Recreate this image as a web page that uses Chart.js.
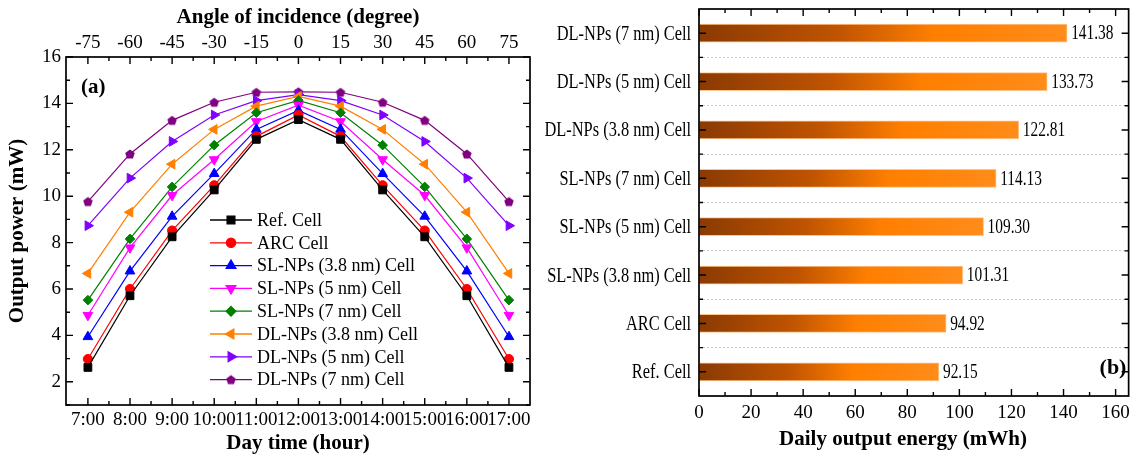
<!DOCTYPE html>
<html>
<head>
<meta charset="utf-8">
<script src="https://cdn.jsdelivr.net/npm/chart.js@4.4.1/dist/chart.umd.min.js"></script>
<style>
  body { margin: 0; background: #fff; }
  #wrap { position: relative; width: 1136px; height: 459px; }
  canvas { position: absolute; top: 0; }
  #left { left: 0; }
  #right { left: 530px; }
</style>
</head>
<body>
<div id="wrap">
  <canvas id="left" width="540" height="459"></canvas>
  <canvas id="right" width="606" height="459"></canvas>
</div>
<script>
// ---- data (a): output power over the day ----
const hours = [7, 8, 9, 10, 11, 12, 13, 14, 15, 16, 17];
const timeLabels = ['7:00', '8:00', '9:00', '10:00', '11:00', '12:00', '13:00', '14:00', '15:00', '16:00', '17:00'];
const angleLabels = ['-75', '-60', '-45', '-30', '-15', '0', '15', '30', '45', '60', '75'];
const powerTicks = [2, 4, 6, 8, 10, 12, 14, 16];

const refCell   = [2.62, 5.71, 8.25, 10.27, 12.45, 13.30, 12.45, 10.27, 8.25, 5.71, 2.62];
const arcCell   = [2.98, 6.00, 8.52, 10.47, 12.58, 13.50, 12.58, 10.47, 8.52, 6.00, 2.98];
const sl38Cell  = [3.94, 6.77, 9.13, 10.97, 12.88, 13.70, 12.88, 10.97, 9.13, 6.77, 3.94];
const sl5Cell   = [4.87, 7.78, 10.04, 11.58, 13.22, 13.92, 13.22, 11.58, 10.04, 7.78, 4.87];
const sl7Cell   = [5.52, 8.16, 10.40, 12.20, 13.60, 14.13, 13.60, 12.20, 10.40, 8.16, 5.52];
const dl38Cell  = [6.67, 9.31, 11.38, 12.88, 13.88, 14.30, 13.88, 12.88, 11.38, 9.31, 6.67];
const dl5Cell   = [8.73, 10.78, 12.36, 13.50, 14.12, 14.38, 14.12, 13.50, 12.36, 10.78, 8.73];
const dl7Cell   = [9.77, 11.82, 13.27, 14.05, 14.48, 14.50, 14.48, 14.05, 13.27, 11.82, 9.77];

// ---- data (b): daily output energy ----
const cellNames = ['Ref. Cell', 'ARC Cell', 'SL-NPs (3.8 nm) Cell', 'SL-NPs (5 nm) Cell',
                   'SL-NPs (7 nm) Cell', 'DL-NPs (3.8 nm) Cell', 'DL-NPs (5 nm) Cell', 'DL-NPs (7 nm) Cell'];
const dailyEnergy = [92.15, 94.92, 101.31, 109.30, 114.13, 122.81, 133.73, 141.38];
const energyTicks = [0, 20, 40, 60, 80, 100, 120, 140, 160];

const serif = "'Liberation Serif', 'Times New Roman', serif";

function pentagon(color, r) {
  const c = document.createElement('canvas');
  const s = Math.ceil(r * 2 + 2);
  c.width = s; c.height = s;
  const g = c.getContext('2d');
  g.fillStyle = color;
  g.beginPath();
  for (let k = 0; k < 5; k++) {
    const a = -Math.PI / 2 + k * 2 * Math.PI / 5;
    g.lineTo(s / 2 + r * Math.cos(a), s / 2 + r * Math.sin(a) + 0.5);
  }
  g.closePath();
  g.fill();
  return c;
}

const series = [
  { label: 'Ref. Cell', data: refCell, color: '#000000', style: 'rect', radius: 5.5, rot: 0 },
  { label: 'ARC Cell', data: arcCell, color: '#ff0000', style: 'circle', radius: 4.6, rot: 0 },
  { label: 'SL-NPs (3.8 nm) Cell', data: sl38Cell, color: '#0000ff', style: 'triangle', radius: 5.6, rot: 0 },
  { label: 'SL-NPs (5 nm) Cell', data: sl5Cell, color: '#ff00ff', style: 'triangle', radius: 5.6, rot: 180 },
  { label: 'SL-NPs (7 nm) Cell', data: sl7Cell, color: '#008000', style: 'rectRot', radius: 4.8, rot: 0 },
  { label: 'DL-NPs (3.8 nm) Cell', data: dl38Cell, color: '#ff8000', style: 'triangle', radius: 5.6, rot: -90 },
  { label: 'DL-NPs (5 nm) Cell', data: dl5Cell, color: '#8000ff', style: 'triangle', radius: 5.6, rot: 90 },
  { label: 'DL-NPs (7 nm) Cell', data: dl7Cell, color: '#800080', style: pentagon('#800080', 5), radius: 5, rot: 0 }
];

// box with inward major/minor ticks on all four sides
function drawFrame(chart, xMajor, xMinor, yMajor, yMinor) {
  const { ctx, chartArea: a } = chart;
  ctx.save();
  ctx.strokeStyle = '#000';
  ctx.lineWidth = 1.4;
  ctx.beginPath();
  const vt = (px, len) => {
    ctx.moveTo(px, a.bottom); ctx.lineTo(px, a.bottom - len);
    ctx.moveTo(px, a.top); ctx.lineTo(px, a.top + len);
  };
  const ht = (py, len) => {
    ctx.moveTo(a.left, py); ctx.lineTo(a.left + len, py);
    ctx.moveTo(a.right, py); ctx.lineTo(a.right - len, py);
  };
  xMajor.forEach(p => vt(p, 7));
  xMinor.forEach(p => vt(p, 4));
  yMajor.forEach(p => ht(p, 7));
  yMinor.forEach(p => ht(p, 4));
  ctx.stroke();
  ctx.lineWidth = 1.7;
  ctx.strokeRect(a.left, a.top, a.right - a.left, a.bottom - a.top);
  ctx.restore();
}

const leftFrame = {
  id: 'leftFrame',
  afterDraw(chart) {
    const { x, y } = chart.scales;
    drawFrame(chart,
      hours.map(h => x.getPixelForValue(h)),
      hours.slice(1).map(h => x.getPixelForValue(h - 0.5)),
      powerTicks.map(v => y.getPixelForValue(v)),
      powerTicks.map(v => y.getPixelForValue(v - 1)));

    const ctx = chart.ctx;
    ctx.save();
    ctx.fillStyle = '#000';
    ctx.font = 'bold 21px ' + serif;
    ctx.textBaseline = 'middle';
    ctx.fillText('(a)', 81, 88);
    ctx.restore();
  }
};

const lineLegend = {
  id: 'lineLegend',
  afterDatasetsDraw(chart) {
    const ctx = chart.ctx;
    const x0 = 210, x1 = 252, y0 = 220, dy = 22.8;
    ctx.save();
    chart.data.datasets.forEach((ds, i) => {
      const yy = y0 + i * dy;
      ctx.strokeStyle = ds.borderColor;
      ctx.lineWidth = 1.3;
      ctx.beginPath();
      ctx.moveTo(x0, yy); ctx.lineTo(x1, yy);
      ctx.stroke();
      ctx.fillStyle = ds.pointBackgroundColor;
      ctx.strokeStyle = ds.pointBorderColor;
      Chart.helpers.drawPoint(ctx, {
        pointStyle: ds.pointStyle, rotation: ds.pointRotation,
        radius: ds.pointRadius, borderWidth: 1
      }, (x0 + x1) / 2, yy);
      ctx.fillStyle = '#000';
      ctx.font = '18px ' + serif;
      ctx.textBaseline = 'middle';
      ctx.fillText(ds.label, 257, yy + 1);
    });
    ctx.restore();
  }
};

new Chart(document.getElementById('left'), {
  type: 'line',
  data: {
    datasets: series.map(s => ({
      label: s.label,
      data: s.data.map((v, i) => ({ x: hours[i], y: v })),
      borderColor: s.color,
      backgroundColor: s.color,
      borderWidth: 1.2,
      pointStyle: s.style,
      pointRotation: s.rot,
      pointRadius: s.radius,
      pointBackgroundColor: s.color,
      pointBorderColor: s.color,
      pointBorderWidth: 1,
      tension: 0
    }))
  },
  options: {
    responsive: false,
    animation: false,
    layout: { padding: { right: 10 } },
    plugins: { legend: { display: false }, tooltip: { enabled: false } },
    scales: {
      x: {
        type: 'linear', position: 'bottom', min: 6.48, max: 17.5,
        afterBuildTicks: s => { s.ticks = hours.map(v => ({ value: v })); },
        afterFit: s => { s.height = 54; },
        grid: { display: false, drawTicks: false },
        border: { display: false },
        ticks: {
          color: '#000', font: { family: serif, size: 19 }, padding: 4,
          autoSkip: false, maxRotation: 0, minRotation: 0,
          callback: v => timeLabels[hours.indexOf(v)]
        },
        title: {
          display: true, text: 'Day time (hour)', color: '#000',
          font: { family: serif, size: 21, weight: 'bold' }, padding: { top: 0, bottom: 3 }
        }
      },
      x2: {
        type: 'linear', position: 'top', min: 6.48, max: 17.5,
        afterBuildTicks: s => { s.ticks = hours.map(v => ({ value: v })); },
        afterFit: s => { s.height = 57; },
        grid: { display: false, drawTicks: false },
        border: { display: false },
        ticks: {
          color: '#000', font: { family: serif, size: 19 }, padding: 3,
          autoSkip: false, maxRotation: 0, minRotation: 0,
          callback: v => angleLabels[hours.indexOf(v)]
        },
        title: {
          display: true, text: 'Angle of incidence (degree)', color: '#000',
          font: { family: serif, size: 21, weight: 'bold' }, padding: { top: 5, bottom: 0 }
        }
      },
      y: {
        type: 'linear', min: 1, max: 16,
        afterBuildTicks: s => { s.ticks = powerTicks.map(v => ({ value: v })); },
        afterFit: s => { s.width = 66; },
        grid: { display: false, drawTicks: false },
        border: { display: false },
        ticks: { color: '#000', font: { family: serif, size: 19 }, padding: 5 },
        title: {
          display: true, text: 'Output power (mW)', color: '#000',
          font: { family: serif, size: 21, weight: 'bold' }, padding: { top: 5, bottom: 0 }
        }
      }
    }
  },
  plugins: [leftFrame, lineLegend]
});

// ---- (b) horizontal bars ----
function barGradient(context) {
  const chart = context.chart;
  if (!chart.chartArea) return '#ff8000';
  const xs = chart.scales.x;
  const x0 = xs.getPixelForValue(0);
  const x1 = xs.getPixelForValue(dailyEnergy[context.dataIndex]);
  const g = chart.ctx.createLinearGradient(x0, 0, x1, 0);
  g.addColorStop(0, '#8a3a03');
  g.addColorStop(0.38, '#c05400');
  g.addColorStop(0.64, '#ff7f00');
  g.addColorStop(1, '#ff8c1a');
  return g;
}

const rightDecor = {
  id: 'rightDecor',
  afterDraw(chart) {
    const { x, y } = chart.scales;
    const centers = cellNames.map((_, i) => y.getPixelForValue(i));
    const bounds = centers.slice(1).map((c, i) => (c + centers[i]) / 2);
    drawFrame(chart,
      energyTicks.map(v => x.getPixelForValue(v)),
      energyTicks.map(v => v + 10).filter(v => v < x.max).map(v => x.getPixelForValue(v)),
      centers, bounds);

    const ctx = chart.ctx;
    const a = chart.chartArea;
    ctx.save();
    ctx.fillStyle = '#000';
    ctx.textBaseline = 'middle';
    // category labels, narrow like the original
    ctx.font = '21px ' + serif;
    ctx.textAlign = 'right';
    cellNames.forEach((name, i) => {
      ctx.save();
      ctx.translate(a.left - 8, centers[i] + 1);
      ctx.scale(0.78, 1);
      ctx.fillText(name, 0, 0);
      ctx.restore();
    });
    // value labels at bar ends
    ctx.font = '20px ' + serif;
    ctx.textAlign = 'left';
    chart.getDatasetMeta(0).data.forEach((bar, i) => {
      ctx.save();
      ctx.translate(bar.x + 4, bar.y + 1);
      ctx.scale(0.77, 1);
      ctx.fillText(dailyEnergy[i].toFixed(2), 0, 0);
      ctx.restore();
    });
    ctx.font = 'bold 22px ' + serif;
    ctx.textAlign = 'center';
    ctx.fillText('(b)', 1113 - 530, 368);
    ctx.font = 'bold 21px ' + serif;
    ctx.fillText('Daily output energy (mWh)', 903 - 530, 440);
    ctx.restore();
  }
};

new Chart(document.getElementById('right'), {
  type: 'bar',
  data: {
    labels: cellNames,
    datasets: [{
      data: dailyEnergy,
      backgroundColor: barGradient,
      borderColor: '#ffc48c',
      borderWidth: 1,
      borderSkipped: false,
      barThickness: 18
    }]
  },
  options: {
    indexAxis: 'y',
    responsive: false,
    animation: false,
    layout: { padding: { top: 9, right: 4.5 } },
    plugins: { legend: { display: false }, tooltip: { enabled: false } },
    scales: {
      x: {
        type: 'linear', min: 0, max: 165,
        afterBuildTicks: s => { s.ticks = energyTicks.map(v => ({ value: v })); },
        afterFit: s => { s.height = 63; },
        grid: { display: false, drawTicks: false },
        border: { display: false },
        ticks: { color: '#000', font: { family: serif, size: 19 }, padding: 6, autoSkip: false, maxRotation: 0 }
      },
      y: {
        reverse: true,
        afterFit: s => { s.width = 169; },
        ticks: { display: false },
        grid: { display: true, offset: true, color: '#c8c8c8', lineWidth: 1, drawTicks: false },
        border: { display: false, dash: [2, 2] }
      }
    }
  },
  plugins: [rightDecor]
});
</script>
</body>
</html>
